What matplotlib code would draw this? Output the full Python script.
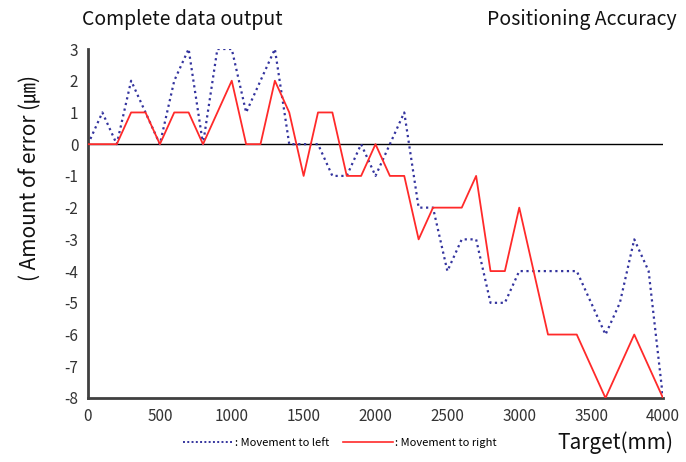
import matplotlib
matplotlib.use('Agg')
import matplotlib.pyplot as plt
from matplotlib.lines import Line2D

plt.rcParams['font.family'] = ['Noto Sans CJK KR', 'DejaVu Sans']
plt.rcParams['axes.unicode_minus'] = False

# 目標位置 (mm)
target = [0, 100, 200, 300, 400, 500, 600, 700, 800, 900,
          1000, 1100, 1200, 1300, 1400, 1500, 1600, 1700, 1800, 1900,
          2000, 2100, 2200, 2300, 2400, 2500, 2600, 2700, 2800, 2900,
          3000, 3100, 3200, 3300, 3400, 3500, 3600, 3700, 3800, 3900,
          4000]

# 誤差 (um)
move_left = [0, 1, 0, 2, 1, 0, 2, 3, 0, 3,
             3, 1, 2, 3, 0, 0, 0, -1, -1, 0,
             -1, 0, 1, -2, -2, -4, -3, -3, -5, -5,
             -4, -4, -4, -4, -4, -5, -6, -5, -3, -4,
             -8]
move_right = [0, 0, 0, 1, 1, 0, 1, 1, 0, 1,
              2, 0, 0, 2, 1, -1, 1, 1, -1, -1,
              0, -1, -1, -3, -2, -2, -2, -1, -4, -4,
              -2, -4, -6, -6, -6, -7, -8, -7, -6, -7,
              -8]

x_ticks = [0, 500, 1000, 1500, 2000, 2500, 3000, 3500, 4000]
y_ticks = [3, 2, 1, 0, -1, -2, -3, -4, -5, -6, -7, -8]

fig = plt.figure(figsize=(6.86, 4.62), dpi=100)
ax = fig.add_axes([88 / 686, 1 - 398 / 462, 575 / 686, 349 / 462])

blue = '#34349e'
red = '#ff2a2a'
ax.axhline(0, color='black', lw=1.0, zorder=1)
ax.plot(target, move_left, color=blue, lw=1.6, ls=(0, (1, 1.6)), zorder=2)
ax.plot(target, move_right, color=red, lw=1.3, zorder=3)

ax.set_xlim(0, 4000)
ax.set_ylim(-8, 3)
ax.set_xticks(x_ticks)
ax.set_yticks(y_ticks)
ax.tick_params(length=0, labelsize=11, labelcolor='#333333', pad=7)
for s in ['top', 'right']:
    ax.spines[s].set_visible(False)
for s in ['left', 'bottom']:
    ax.spines[s].set_color('#404040')
    ax.spines[s].set_linewidth(2)

# タイトル
fig.text(82 / 686, 1 - 20 / 462, 'Complete data output', fontsize=14,
         ha='left', va='center', color='#111111')
fig.text(677 / 686, 1 - 20 / 462, 'Positioning Accuracy', fontsize=14,
         ha='right', va='center', color='#111111')
fig.text(30 / 686, 1 - 178 / 462, '( Amount of error (㎛)', fontsize=15,
         rotation=90, ha='center', va='center', color='#111111')
fig.text(673 / 686, 1 - 443 / 462, 'Target(mm)', fontsize=15,
         ha='right', va='center', color='#111111')

# 凡例
handles = [Line2D([], [], color=blue, lw=1.4, ls=(0, (1, 1.2))),
           Line2D([], [], color=red, lw=1.2)]
fig.legend(handles, [': Movement to left', ': Movement to right'],
           loc='center', bbox_to_anchor=(340 / 686, 1 - 443 / 462), ncol=2,
           frameon=False, fontsize=8, handlelength=4.5, handletextpad=0.2,
           columnspacing=1.2)

fig.savefig('out.png', dpi=100)
